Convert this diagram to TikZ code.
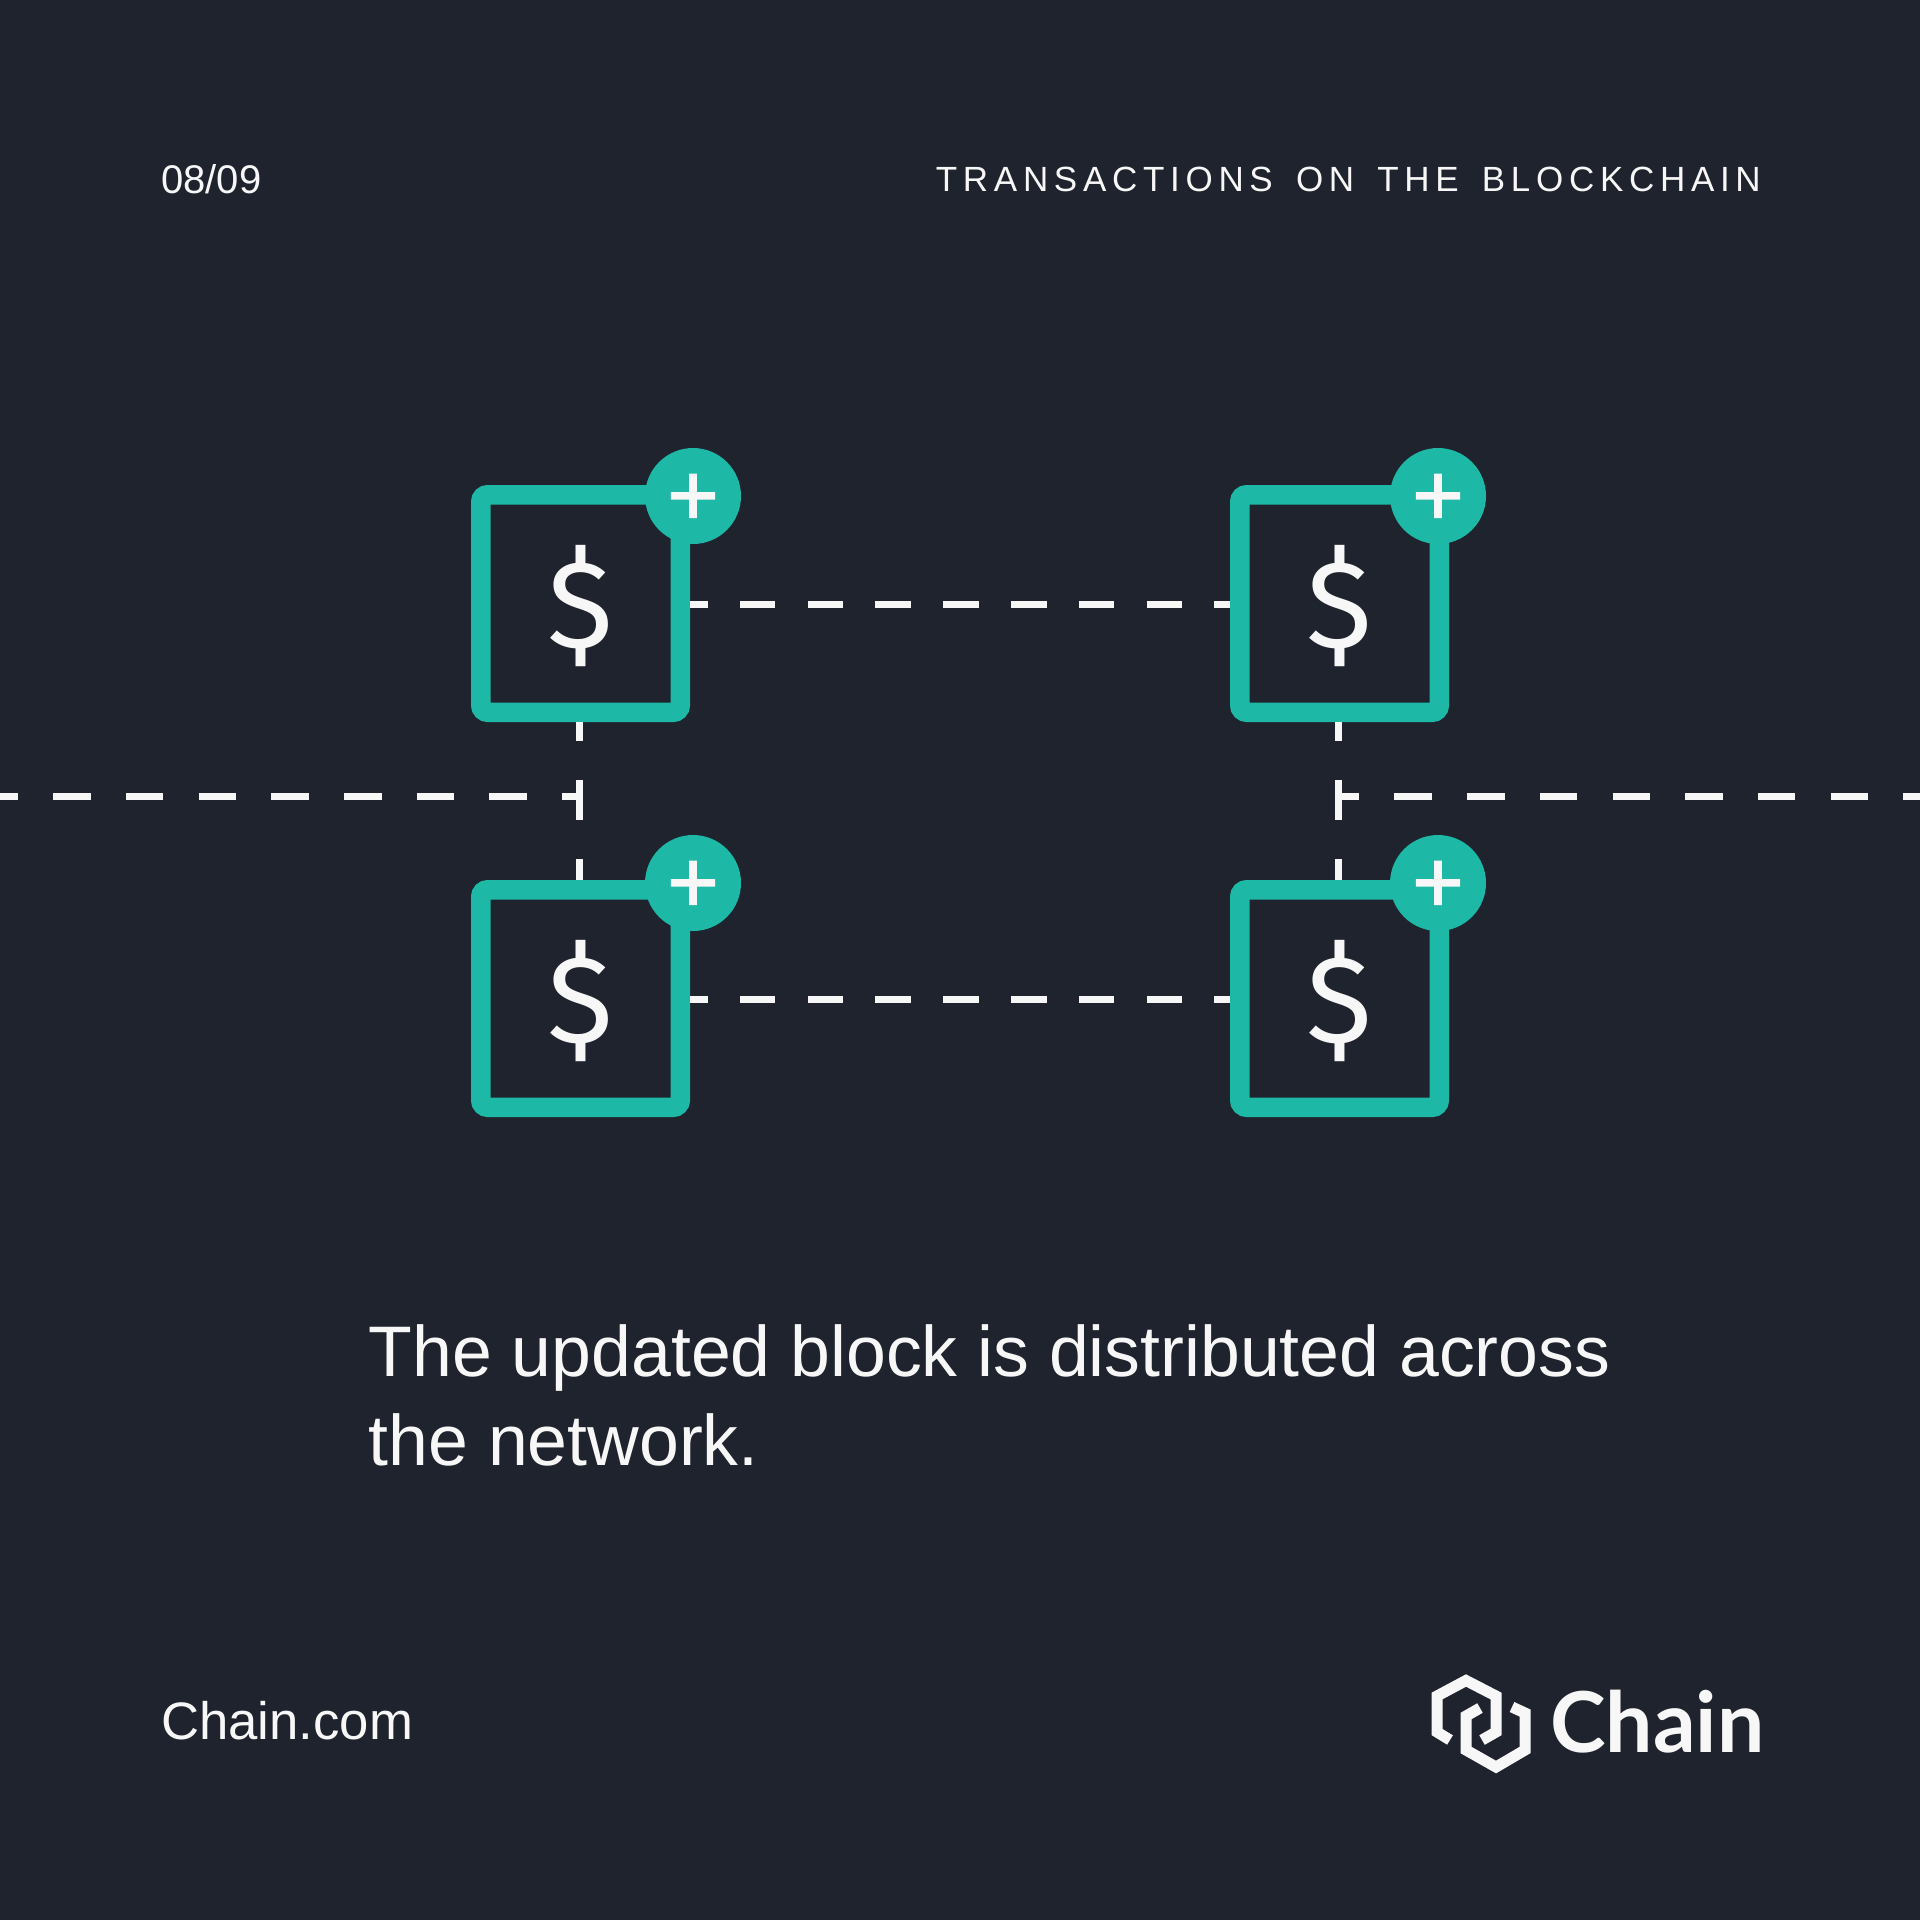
\documentclass[tikz,border=0pt]{standalone}
\usepackage{fontspec}
\setmainfont{Liberation Sans}
\newfontfamily\dollarfont{Fira Sans}
\newfontfamily\plusfont{Liberation Sans}[FakeBold=1.5]
\newfontfamily\logofont{Lato}
\newfontfamily\spacedfont{Liberation Sans}[LetterSpace=16.3,WordSpace=1.5]
\definecolor{bgdark}{HTML}{1F232D}
\definecolor{teal}{HTML}{1DB8A6}
\definecolor{paper}{HTML}{F7F7F7}
\newcommand{\plusmark}{\raisebox{-3.7pt}[\height][\depth]{+}}
\newcommand{\dollarmark}{\raisebox{-2.5pt}[\height][\depth]{\$}}
\tikzset{
  block/.style={draw=teal,line width=19.5pt,rounded corners=7pt,minimum width=199.5pt,minimum height=217.5pt,
    inner sep=0pt,text=paper,font=\dollarfont\fontsize{124}{124}\selectfont},
  plusdot/.style={circle,fill=teal,minimum size=96pt,inner sep=0pt,text=paper,font=\plusfont\fontsize{88}{88}\selectfont},
  link/.style={draw=paper,line width=7pt},
  hexlink/.style={draw=paper,line width=11pt,miter limit=10},
  caption/.style={text=paper,inner sep=0pt,anchor=base west},
}
\begin{document}
\begin{tikzpicture}[x=1pt,y=-1pt,node distance=759pt]
  \useasboundingbox[fill=bgdark] (0,0) rectangle (1920,1920);

  \node[block] (box1) at (580.5,603.5) {\dollarmark};
  \node[block] (box2) [right of = box1] {\dollarmark};
  \node[block,below of = box1,node distance=395pt] (box3) {\dollarmark};
  \node[block] (box4) [right of = box3] {\dollarmark};

  \node[plusdot] (plus1) at ([xshift=112.5pt,yshift=107.5pt]box1.center) {\plusmark};
  \node[plusdot] (plus2) at ([xshift=98.5pt,yshift=107.5pt]box2.center) {\plusmark};
  \node[plusdot] (plus3) at ([xshift=112.5pt,yshift=115.5pt]box3.center) {\plusmark};
  \node[plusdot] (plus4) at ([xshift=98.5pt,yshift=115.5pt]box4.center) {\plusmark};

  \coordinate (leftend) at (0,796.5);
  \coordinate (leftjoin) at (579.3,796.5);
  \coordinate (rightjoin) at (1338.7,796.5);
  \coordinate (rightend) at (1920,796.5);

  \path[link,dash pattern=on 35.5pt off 32.3pt,dash phase=18pt]
    ([yshift=-0.5pt]box1.east) edge ([yshift=-0.5pt]box2.west)
    ([yshift=-0.5pt]box3.east) edge ([yshift=-0.5pt]box4.west);
  \path[link,dash pattern=on 40pt off 39pt,dash phase=21pt]
    ([xshift=-1pt]box1.south) edge ([xshift=-1pt]box3.north)
    ([xshift=-1pt]box2.south) edge ([xshift=-1pt]box4.north);
  \draw[link,dash pattern=on 37.5pt off 35.2pt,dash phase=19.5pt] (leftend) -- (leftjoin);
  \draw[link,dash pattern=on 37.5pt off 35.2pt,dash phase=17pt] (rightjoin) -- (rightend);

  \node[caption,font=\fontsize{40}{40}\selectfont] (page) at (161,193) {08/09};
  \node[caption,anchor=base east,font=\spacedfont\fontsize{35}{35}\selectfont] (title) at (1761,191) {TRANSACTIONS ON THE BLOCKCHAIN};
  \node[caption,font=\fontsize{71.6}{89}\selectfont,align=left,anchor=north west] (body) at (368.5,1324.5)
    {The updated block is distributed across\\the network.};
  \node[caption,font=\fontsize{52.7}{52.7}\selectfont] (site) at (161,1739) {Chain.com};
  \node[caption,font=\logofont\bfseries\fontsize{84}{84}\selectfont] (brand) at (1550,1752) {Chain};

  \coordinate (h1) at (1450,1740);
  \coordinate (h2) at (1437,1732);
  \coordinate (h3) at (1437,1696);
  \coordinate (h4) at (1466,1680.5);
  \coordinate (h5) at (1496,1696);
  \coordinate (h6) at (1496,1732);
  \coordinate (h7) at (1482,1740);
  \draw[hexlink] (h1) -- (h2) -- (h3) -- (h4) -- (h5) -- (h6) -- (h7);
  \coordinate (k1) at (1480,1708);
  \coordinate (k2) at (1466,1716);
  \coordinate (k3) at (1466,1750);
  \coordinate (k4) at (1496,1767);
  \coordinate (k5) at (1525,1750);
  \coordinate (k6) at (1525,1713);
  \coordinate (k7) at (1512,1707);
  \draw[hexlink] (k1) -- (k2) -- (k3) -- (k4) -- (k5) -- (k6) -- (k7);
\end{tikzpicture}
\end{document}
